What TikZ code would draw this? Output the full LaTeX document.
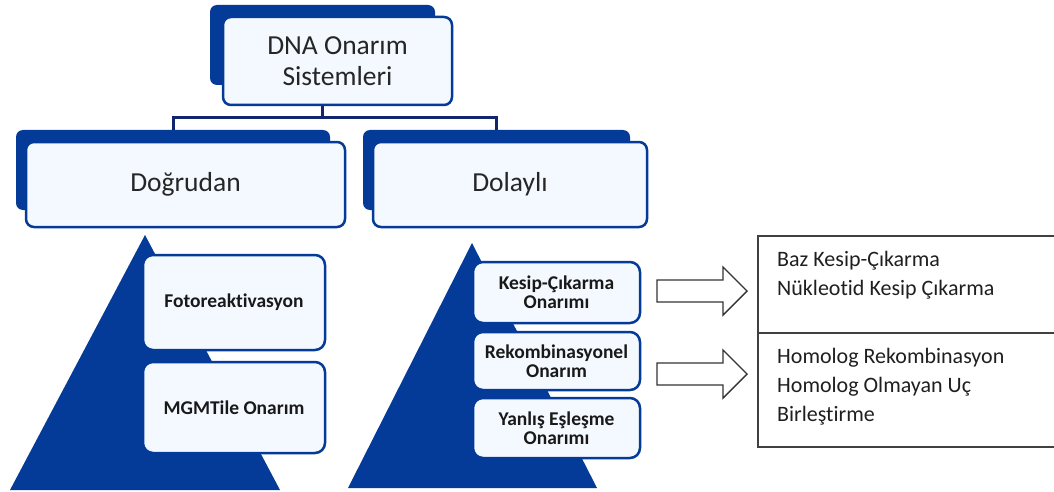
\documentclass[tikz,border=0pt]{standalone}
\usepackage{fontspec}
\setmainfont[Ligatures=NoCommon]{Carlito}
\definecolor{dblue}{RGB}{4,58,152}
\definecolor{navy}{RGB}{18,38,110}
\definecolor{lfill}{RGB}{243,249,254}
\definecolor{txt}{RGB}{38,38,38}
\tikzset{
  back/.style={fill=dblue, draw=none, rounded corners=7pt},
  front/.style={fill=lfill, draw=dblue, line width=2.5pt, rounded corners=8pt, text=txt,
    font=\fontsize{27.5}{31}\selectfont, align=center, inner sep=0pt},
  small/.style={fill=lfill, draw=dblue, line width=2.5pt, rounded corners=10pt, text=black!90,
    font=\bfseries\fontsize{19.5}{19}\selectfont, align=center, inner sep=0pt,
    minimum width=182pt},
  smallr/.style={small, minimum width=167pt},
  conn/.style={draw=navy, line width=3pt},
  blockarrow/.style={draw=black!80, line width=1.4pt, fill=white, line join=miter},
  listtxt/.style={anchor=west, align=left, inner sep=0pt, text=black!88,
    font=\fontsize{22}{29}\selectfont},
  boxline/.style={draw=black!75, line width=1.6pt}
}
\begin{document}
\begin{tikzpicture}[x=1pt,y=-1pt]
\useasboundingbox (0,0) rectangle (1054,492);
% triangles
\fill[dblue] (10,490) -- (145,235) -- (280,490) -- cycle;
\fill[dblue] (348,488) -- (472,243) -- (597,488) -- cycle;
% back boxes
\node[back, minimum width=225pt, minimum height=80pt] (topB) at (322.5,45) {};
\node[back, minimum width=314pt, minimum height=80pt] (dogB) at (173,170) {};
\node[back, minimum width=267pt, minimum height=80pt] (dolB) at (496.5,170) {};
% connectors
\draw[conn] (topB.south) -- ++(0,32) coordinate (hub) -| (dogB.north);
\draw[conn] (hub) -| (dolB.north);
% front boxes
\node[front, minimum width=229pt, minimum height=88pt] (top) at (337.5,61) {DNA Onarım\\Sistemleri};
\node[front, minimum width=319pt, minimum height=85pt] (dog) at (185.5,184.5) {Doğrudan};
\node[front, minimum width=274pt, minimum height=85pt] (dol) at (510,184.5) {Dolaylı};
% small boxes
\node[small, minimum height=95pt] (foto) at (234,302.5) {Fotoreaktivasyon};
\node[small, minimum height=91pt] (mgmt) at (234,407.5) {MGMTile Onarım};
\node[smallr, minimum height=61pt] (kesip) at (556.5,292.5) {Kesip-Çıkarma\\Onarımı};
\node[smallr, minimum height=58pt] (rek) at (556.5,361) {Rekombinasyonel\\Onarım};
\node[smallr, minimum height=60pt] (yan) at (556.5,428) {Yanlış Eşleşme\\Onarımı};
% block arrows
\draw[blockarrow] (657,280) -- (723,280) -- (723,267) -- (747,291) -- (723,315) -- (723,302) -- (657,302) -- cycle;
\draw[blockarrow] (657,363) -- (723,363) -- (723,350) -- (747,374) -- (723,398) -- (723,385) -- (657,385) -- cycle;
% right list box
\draw[boxline] (1054,236) -- (758,236) -- (758,447) -- (1054,447);
\draw[boxline] (758,333) -- (1054,333);
\node[listtxt] (l1) at (777,275) {Baz Kesip-Çıkarma\\Nükleotid Kesip Çıkarma};
\node[listtxt] (l2) at (777,386.5) {Homolog Rekombinasyon\\Homolog Olmayan Uç\\Birleştirme};
\end{tikzpicture}
\end{document}
